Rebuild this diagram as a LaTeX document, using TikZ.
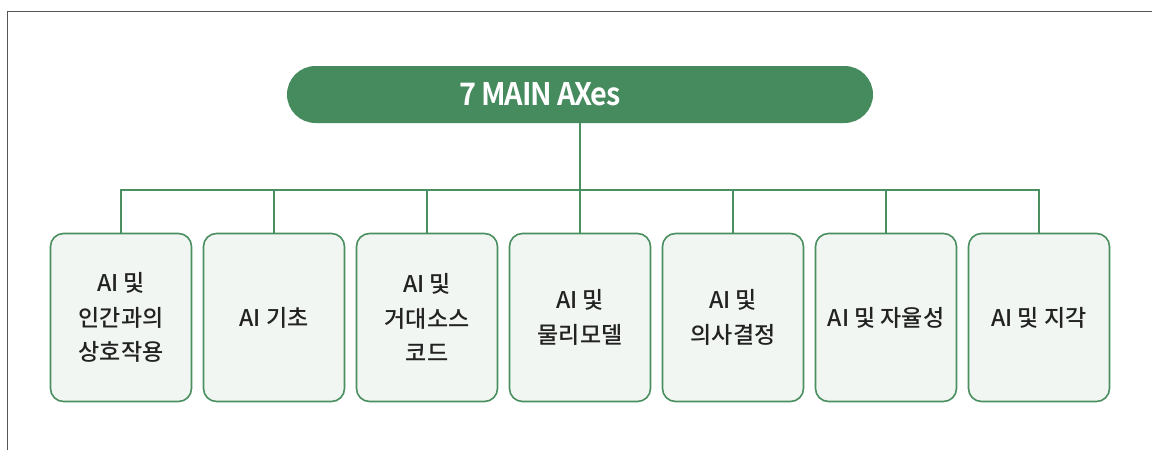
\documentclass[tikz,border=0pt]{standalone}
\usepackage{fontspec}
\setmainfont{Noto Sans CJK KR}
\newfontfamily\titlefont[LetterSpace=-4,FakeStretch=0.93]{Noto Sans CJK KR Bold}
\newfontfamily\boxfont{Noto Sans CJK KR Medium}
\definecolor{pillgreen}{HTML}{458B5D}
\definecolor{edgegreen}{HTML}{4A8F60}
\definecolor{boxfill}{HTML}{F2F6F2}
\definecolor{textdark}{HTML}{222222}
\definecolor{framegray}{HTML}{555555}
\begin{document}
\begin{tikzpicture}[x=1pt,y=-1pt,
  pill/.style={rectangle,rounded corners=28.5pt,fill=pillgreen,minimum width=586pt,minimum height=57pt,inner sep=0pt},
  titletext/.style={text=white,inner sep=0pt,font=\titlefont\fontsize{31}{32}\selectfont},
  axisbox/.style={rectangle,rounded corners=13pt,draw=edgegreen,line width=1.6pt,fill=boxfill,minimum width=141pt,minimum height=168pt,inner sep=0pt,align=center,text=textdark,font=\boxfont\fontsize{23}{34.5}\selectfont},
  link/.style={draw=edgegreen,line width=1.8pt}]
\useasboundingbox (0,0) rectangle (1152,450);
\draw[framegray,line width=1pt] (7,450) -- (7,11) -- (1152,11);
\node[pill] (top) at (580,94.5) {};
\node[titletext] (title) at (540,94.5) {7 MAIN AXes};
\node[axisbox] (b1) at (121,317.5) {AI 및\\인간과의\\상호작용};
\node[axisbox] (b2) at (274,317.5) {AI 기초};
\node[axisbox] (b3) at (427,317.5) {AI 및\\거대소스\\코드};
\node[axisbox] (b4) at (580,317.5) {AI 및\\물리모델};
\node[axisbox] (b5) at (733,317.5) {AI 및\\의사결정};
\node[axisbox] (b6) at (886,317.5) {AI 및 자율성};
\node[axisbox] (b7) at (1039,317.5) {AI 및 지각};
\coordinate (bus) at (580,190);
\draw[link] (top.south) -- (b4.north);
\draw[link] (b1.north) -- (b1.north |- bus) -| (b7.north);
\foreach \i in {2,3,5,6}{\draw[link] (b\i.north) -- (b\i.north |- bus);}
\end{tikzpicture}
\end{document}
